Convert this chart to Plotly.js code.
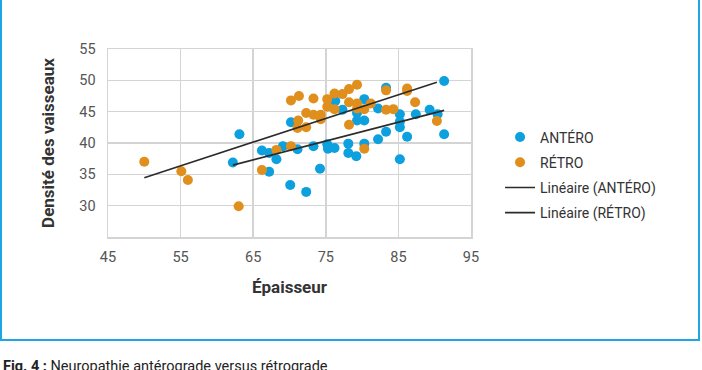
<!DOCTYPE html>
<html>
<head>
<meta charset="utf-8">
<script src="https://cdn.plot.ly/plotly-3.0.1.min.js"></script>
<style>
  html, body { margin: 0; padding: 0; width: 702px; height: 370px; overflow: hidden; background: #fff; }
  #chart { position: absolute; left: 0; top: 0; width: 702px; height: 370px; }
  #frame { position: absolute; left: 0px; top: -6px; width: 696px; height: 343px; border: 2px solid #1da6e3; pointer-events: none; }
  #caption { position: absolute; left: 3px; top: 358px; font-family: Roboto, sans-serif; font-size: 14.5px; color: #222; white-space: nowrap; }
</style>
</head>
<body>
<div id="chart"></div>
<div id="frame"></div>
<div id="caption"><b>Fig. 4 :</b> Neuropathie antérograde versus rétrograde</div>
<script>
// ANTÉRO series
const anteroX = [62.2, 63.1, 66.2, 67.2, 67.2, 68.2, 69.1, 70.2, 70.1, 71.1, 72.3, 73.3, 74.2, 75.2, 75.3, 76.2, 76.3, 77.3, 78.1, 78.1, 79.2, 79.3, 79.3, 80.3, 80.3, 80.3, 82.2, 82.2, 83.3, 83.3, 85.2, 85.2, 85.2, 85.2, 86.2, 87.4, 89.3, 90.4, 91.3, 91.3];
const anteroY = [36.9, 41.4, 38.8, 38.4, 35.4, 37.4, 39.5, 43.3, 33.3, 39.0, 32.2, 39.5, 35.9, 39.8, 39.1, 39.2, 46.7, 45.3, 39.9, 38.4, 37.9, 44.8, 43.6, 47.0, 43.6, 39.9, 45.5, 40.6, 48.8, 41.8, 44.6, 43.4, 42.5, 37.4, 41.0, 44.6, 45.3, 44.6, 49.9, 41.4];
// RÉTRO series
const retroX = [50.0, 55.1, 56.0, 63.0, 66.2, 68.2, 70.2, 70.2, 71.3, 71.2, 71.1, 72.3, 72.3, 73.3, 73.3, 74.3, 74.3, 75.2, 75.2, 76.2, 76.2, 77.3, 78.2, 78.2, 78.2, 79.3, 79.3, 79.3, 80.3, 80.3, 81.2, 83.3, 83.3, 84.3, 86.2, 86.2, 87.3, 90.3];
const retroY = [37.0, 35.5, 34.1, 29.9, 35.7, 38.9, 39.5, 46.8, 47.5, 43.6, 42.4, 44.8, 42.5, 47.1, 44.5, 44.5, 43.8, 47.0, 45.8, 47.9, 45.4, 47.8, 48.6, 46.5, 42.9, 49.3, 46.3, 45.5, 45.4, 39.1, 46.3, 48.4, 45.3, 45.4, 48.7, 48.3, 46.5, 43.5];

const seriesNames = ['ANTÉRO', 'RÉTRO', 'Linéaire (ANTÉRO)', 'Linéaire (RÉTRO)'];
const xTicks = [45, 55, 65, 75, 85, 95];
const yTicks = [30, 35, 40, 45, 50, 55];

function linfit(xs, ys) {
  const n = xs.length;
  let sx = 0, sy = 0, sxx = 0, sxy = 0;
  for (let i = 0; i < n; i++) { sx += xs[i]; sy += ys[i]; sxx += xs[i]*xs[i]; sxy += xs[i]*ys[i]; }
  const b = (n*sxy - sx*sy) / (n*sxx - sx*sx);
  const a = (sy - b*sx) / n;
  const x0 = Math.min(...xs), x1 = Math.max(...xs);
  return { x: [x0, x1], y: [a + b*x0, a + b*x1] };
}
const fitA = linfit(anteroX, anteroY);
const fitR = linfit(retroX, retroY);

const blue = '#0ca0de';
const orange = '#e08f1c';

const traces = [
  { x: anteroX, y: anteroY, mode: 'markers', type: 'scatter', name: seriesNames[0], legendgroup: 'a',
    marker: { color: blue, size: 10 } },
  { x: retroX, y: retroY, mode: 'markers', type: 'scatter', name: seriesNames[1], legendgroup: 'b',
    marker: { color: orange, size: 10 } },
  { x: fitA.x, y: fitA.y, mode: 'lines', type: 'scatter', name: seriesNames[2], legendgroup: 'c',
    line: { color: '#2b2b2b', width: 1.6 } },
  { x: fitR.x, y: fitR.y, mode: 'lines', type: 'scatter', name: seriesNames[3], legendgroup: 'd',
    line: { color: '#2b2b2b', width: 1.6 } }
];

const layout = {
  width: 702, height: 370,
  margin: { l: 108, r: 231, t: 49, b: 133 },
  paper_bgcolor: '#fff', plot_bgcolor: '#fff',
  font: { family: 'Roboto, sans-serif', size: 14, color: '#555' },
  showlegend: true,
  legend: { x: 1.08, xanchor: 'left', y: 0.33, yanchor: 'middle', traceorder: 'grouped', tracegroupgap: 4,
            font: { family: 'Roboto, sans-serif', size: 14, color: '#333' }, bgcolor: 'rgba(0,0,0,0)' },
  xaxis: {
    range: [45, 95], tickvals: xTicks, ticktext: xTicks.map(String),
    showgrid: true, gridcolor: '#d4d4d4', gridwidth: 1.5, zeroline: false,
    showline: true, mirror: true, linecolor: '#d4d4d4', linewidth: 1.5,
    ticks: '', ticklabelstandoff: 6,
    tickfont: { size: 14.5, color: '#555' },
    title: { text: '<b>Épaisseur</b>', font: { size: 17, color: '#333' }, standoff: 16 }
  },
  yaxis: {
    range: [25, 55], tickvals: yTicks, ticktext: yTicks.map(String),
    showgrid: true, gridcolor: '#d4d4d4', gridwidth: 1.5, zeroline: false,
    showline: true, mirror: true, linecolor: '#d4d4d4', linewidth: 1.5,
    ticks: '', ticklabelstandoff: 8,
    tickfont: { size: 14.5, color: '#555' },
    title: { text: '<b>Densité des vaisseaux</b>', font: { size: 17, color: '#333' }, standoff: 20 }
  }
};

Plotly.newPlot('chart', traces, layout, { displayModeBar: false, staticPlot: true });
</script>
</body>
</html>
